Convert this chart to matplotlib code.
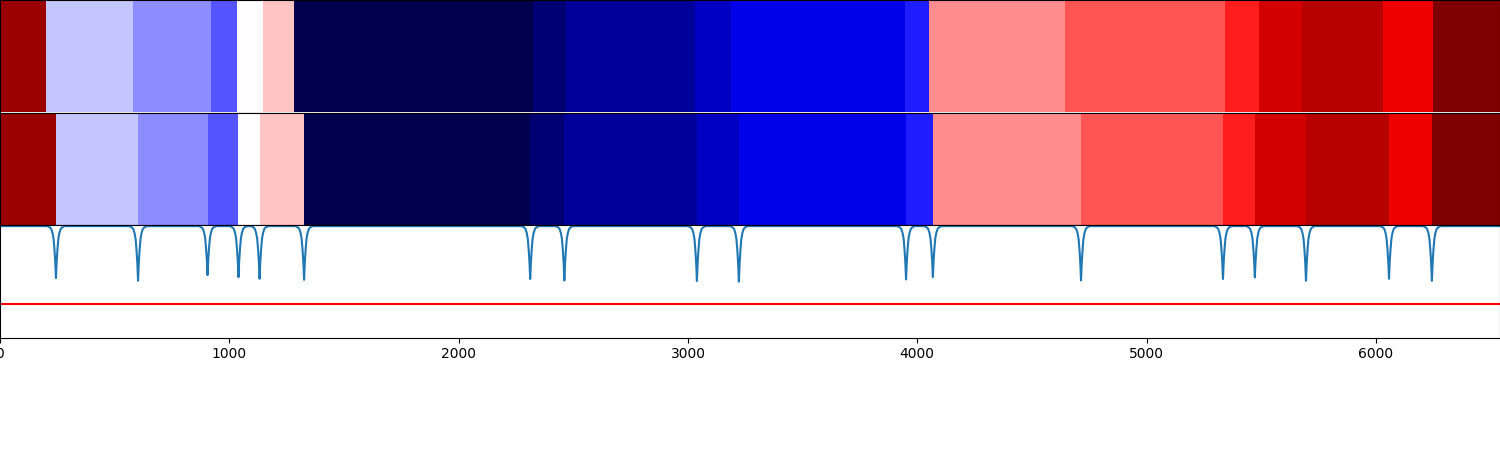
import numpy as np
import matplotlib
matplotlib.use("Agg")
import matplotlib.pyplot as plt

# total number of frames on the x axis
n_frames = 6541

# segment labels (same order in both rows), 19 classes -> seismic colormap
seg_labels = [17, 8, 7, 6, 9, 10, 0, 1, 2, 3, 4, 5, 11, 12, 13, 15, 16, 14, 18]

# segment boundaries (frame index where the next segment starts)
gt_bounds = [201, 580, 920, 1033, 1147, 1282, 2324, 2467, 3031, 3186,
             3946, 4051, 4644, 5342, 5490, 5677, 6031, 6249]
pred_bounds = [244, 602, 905, 1040, 1132, 1326, 2312, 2461, 3039, 3222,
               3951, 4068, 4714, 5333, 5472, 5695, 6057, 6244]

# bottom of each dip in the score curve (one per predicted boundary)
dip_min = [0.528, 0.504, 0.555, 0.537, 0.522, 0.513, 0.520, 0.507, 0.502,
           0.496, 0.516, 0.537, 0.507, 0.520, 0.534, 0.504, 0.522, 0.504]
baseline = 0.99
threshold = 0.3

# dip shape: offset (frames) vs fraction of full depth
dip_offsets = [-38, -28, -21, -15, -10.5, -6.5, -3, 0, 3, 6.5, 10.5, 15, 21, 28, 38]
dip_fracs = [0.0, 0.02, 0.05, 0.13, 0.24, 0.45, 0.69, 1.0,
             0.69, 0.45, 0.24, 0.13, 0.05, 0.02, 0.0]


def label_row(bounds):
    edges = [0] + list(bounds) + [n_frames]
    return np.repeat(seg_labels, np.diff(edges))


def score_curve():
    xs = [0.0]
    ys = [baseline]
    for c, lo in zip(pred_bounds, dip_min):
        for off, fr in zip(dip_offsets, dip_fracs):
            xs.append(c + off)
            ys.append(baseline - fr * (baseline - lo))
    xs.append(n_frames)
    ys.append(baseline)
    return np.array(xs), np.array(ys)


fig = plt.figure(figsize=(15, 4.5), dpi=100)
gs = fig.add_gridspec(3, 1, hspace=0.0, left=0.0, right=1.0, top=1.0, bottom=0.25)

ax1 = fig.add_subplot(gs[0])
ax2 = fig.add_subplot(gs[1])
ax3 = fig.add_subplot(gs[2])

# gt row and predicted row
for ax, bounds in ((ax1, gt_bounds), (ax2, pred_bounds)):
    ax.imshow(label_row(bounds)[None, :], aspect="auto", cmap="seismic",
              vmin=0, vmax=18, interpolation="nearest",
              extent=(0, n_frames, 0, 1))
    ax.set_xlim(0, n_frames)
    ax.set_xticks([])
    ax.set_yticks([])

# boundary score
x, y = score_curve()
ax3.plot(x, y, color="C0", linewidth=1.5)
ax3.axhline(threshold, color="red", linewidth=1.5)
ax3.set_ylim(0, 1)
ax3.set_yticks([])
ax3.set_xlim(0, n_frames)
ax3.set_xticks([0, 1000, 2000, 3000, 4000, 5000, 6000])

fig.savefig("out.png", dpi=100)
